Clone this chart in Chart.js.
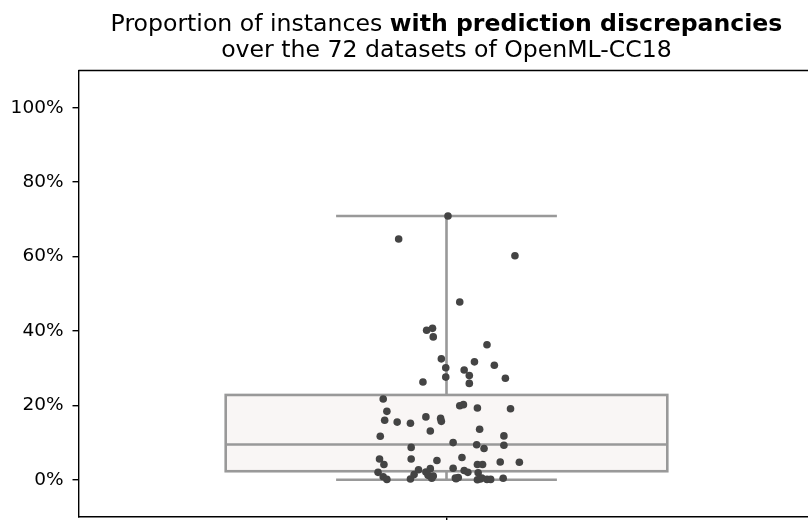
<!DOCTYPE html>
<html>
<head>
<meta charset="utf-8">
<script src="https://cdn.jsdelivr.net/npm/chart.js@4.4.1/dist/chart.umd.min.js"></script>
<style>
  html, body { margin: 0; padding: 0; background: #fff; overflow: hidden; }
  #wrap { position: relative; width: 808px; height: 520px; overflow: hidden; }
  #title {
    position: absolute; left: 78.5px; width: 736px; top: 9.5px;
    font-family: "DejaVu Sans", sans-serif; font-size: 23.6px; line-height: 26px;
    text-align: center; color: #000; white-space: nowrap;
  }
  #chart { position: absolute; left: 0; top: 0; }
</style>
</head>
<body>
<div id="wrap">
  <canvas id="chart" width="830" height="540"></canvas>
  <div id="title">Proportion of instances <b>with prediction discrepancies</b><br>over the 72 datasets of OpenML-CC18</div>
</div>
<script>
// Datos: desplazamiento horizontal (jitter) y proporción (%) de cada dataset
const jitterX = [
  0.002, -0.065, 0.093, 0.018, -0.027, -0.019, -0.018, 0.055, -0.007, 0.038,
  0.065, -0.001, 0.024, 0.031, -0.001, 0.080, -0.032, 0.031, -0.086, -0.081,
  -0.084, -0.067, -0.049, -0.028, -0.008, -0.007, 0.018, 0.023, 0.042, 0.087,
  -0.022, 0.045, -0.090, 0.078, -0.048, 0.009, 0.041, 0.051, 0.078, -0.091,
  -0.085, -0.048, -0.013, 0.021, 0.073, 0.099, 0.042, 0.049, -0.093, -0.086,
  -0.081, -0.049, -0.044, -0.038, -0.028, -0.022, -0.025, -0.020, 0.009, 0.012,
  0.016, 0.024, 0.029, 0.043, 0.042, 0.048, 0.055, 0.060, 0.077, 0.013,
  -0.018, 0.046
];
const shares = [
  70.9, 64.7, 60.2, 47.8, 40.2, 40.7, 38.4, 36.3, 32.5, 31.7,
  30.8, 30.1, 29.5, 28.0, 27.6, 27.3, 26.3, 25.9, 21.7, 18.4,
  16.0, 15.5, 15.2, 16.9, 16.5, 15.7, 19.9, 20.2, 19.3, 19.1,
  13.1, 13.6, 11.7, 11.8, 8.7, 10.0, 9.4, 8.4, 9.3, 5.6,
  4.1, 5.6, 5.2, 6.0, 4.8, 4.7, 4.1, 4.1, 2.0, 0.8,
  0.1, 0.2, 1.4, 2.7, 2.1, 3.0, 1.2, 0.4, 3.1, 0.5,
  0.6, 2.5, 2.0, 1.9, 0.0, 0.5, 0.1, 0.1, 0.4, 0.3,
  1.0, 0.2
];
// Caja: bigote inferior, Q1, mediana, Q3, bigote superior (%)
const boxStats = [0, 2.3, 9.5, 22.8, 70.9];
const yTicks = [0, 20, 40, 60, 80, 100];

// Plugin que dibuja la caja y el marco superior/derecho
const boxPlugin = {
  id: 'boxPlot',
  beforeDatasetsDraw(chart) {
    const { ctx, scales: { x, y } } = chart;
    const [lo, q1, med, q3, hi] = boxStats;
    const xl = x.getPixelForValue(-0.3), xr = x.getPixelForValue(0.3);
    const cl = x.getPixelForValue(-0.15), cr = x.getPixelForValue(0.15);
    const xc = x.getPixelForValue(0);
    ctx.save();
    ctx.fillStyle = '#f9f6f5';
    ctx.fillRect(xl, y.getPixelForValue(q3), xr - xl, y.getPixelForValue(q1) - y.getPixelForValue(q3));
    ctx.strokeStyle = '#999999';
    ctx.lineWidth = 2.6;
    ctx.strokeRect(xl, y.getPixelForValue(q3), xr - xl, y.getPixelForValue(q1) - y.getPixelForValue(q3));
    ctx.beginPath();
    ctx.moveTo(xl, y.getPixelForValue(med)); ctx.lineTo(xr, y.getPixelForValue(med));
    ctx.moveTo(xc, y.getPixelForValue(q3)); ctx.lineTo(xc, y.getPixelForValue(hi));
    ctx.moveTo(xc, y.getPixelForValue(q1)); ctx.lineTo(xc, y.getPixelForValue(lo));
    ctx.moveTo(cl, y.getPixelForValue(hi)); ctx.lineTo(cr, y.getPixelForValue(hi));
    ctx.moveTo(cl, y.getPixelForValue(lo)); ctx.lineTo(cr, y.getPixelForValue(lo));
    ctx.stroke();
    ctx.restore();
  },
  afterDraw(chart) {
    const { ctx, chartArea: a } = chart;
    ctx.save();
    ctx.strokeStyle = '#000';
    ctx.lineWidth = 1.4;
    ctx.beginPath();
    ctx.moveTo(a.left, a.top); ctx.lineTo(a.right, a.top); ctx.lineTo(a.right, a.bottom);
    ctx.stroke();
    ctx.restore();
  }
};

const ctx = document.getElementById('chart').getContext('2d');
new Chart(ctx, {
  type: 'scatter',
  data: {
    datasets: [{
      data: jitterX.map((v, i) => ({ x: v, y: shares[i] })),
      backgroundColor: '#444444',
      borderWidth: 0,
      pointRadius: 3.8,
      pointHoverRadius: 3.8
    }]
  },
  options: {
    responsive: false,
    devicePixelRatio: 1,
    animation: false,
    events: [],
    layout: { padding: { top: 70.5, right: 15.5, left: 0, bottom: 0 } },
    plugins: { legend: { display: false }, tooltip: { enabled: false }, title: { display: false } },
    scales: {
      x: {
        type: 'linear', min: -0.5, max: 0.5,
        afterBuildTicks: s => { s.ticks = [{ value: 0 }]; },
        afterFit: s => { s.height = 23; },
        ticks: { display: false },
        grid: { drawOnChartArea: false, drawTicks: true, tickLength: 6, color: '#000', lineWidth: 1.4 },
        border: { display: true, color: '#000', width: 1.4 }
      },
      y: {
        min: -10, max: 110,
        afterBuildTicks: s => { s.ticks = yTicks.map(v => ({ value: v })); },
        afterFit: s => { s.width = 78.5; },
        ticks: {
          callback: v => v + '%',
          color: '#000',
          padding: 9,
          font: { family: 'DejaVu Sans', size: 18.5 }
        },
        grid: { drawOnChartArea: false, drawTicks: true, tickLength: 6, color: '#000', lineWidth: 1.4 },
        border: { display: true, color: '#000', width: 1.4 }
      }
    }
  },
  plugins: [boxPlugin]
});
</script>
</body>
</html>
